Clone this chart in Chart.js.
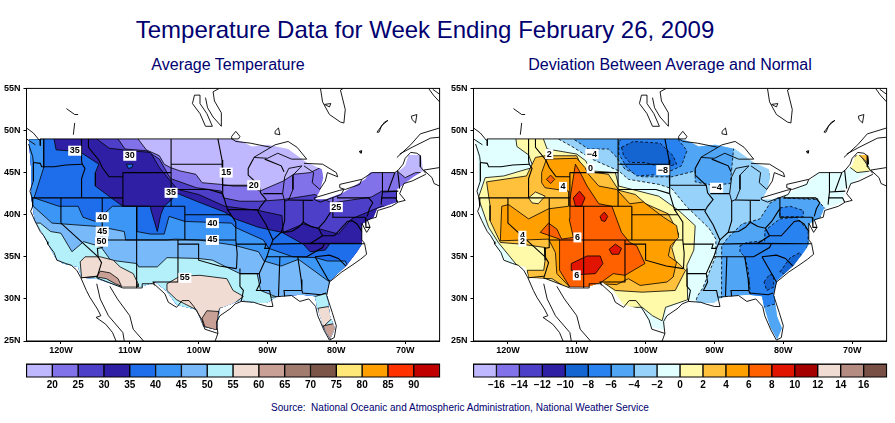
<!DOCTYPE html>
<html>
<head>
<meta charset="utf-8">
<title>Temperature Data for Week Ending February 26, 2009</title>
<script src="https://cdn.jsdelivr.net/npm/chart.js@4"></script>
<style>
  html, body { margin: 0; padding: 0; background: #fff; }
  body { position: relative; width: 895px; height: 423px; overflow: hidden; font-family: "Liberation Sans", Arial, sans-serif; }
  canvas { position: absolute; }
  .txt { position: absolute; color: #000070; text-align: center; white-space: pre; }
</style>
</head>
<body>
<div class="txt" style="left:0;width:850px;top:16px;font-size:24px">Temperature Data for Week Ending February 26, 2009</div>
<div class="txt" style="left:28px;width:400px;top:56px;font-size:16px">Average Temperature</div>
<div class="txt" style="left:470px;width:400px;top:56px;font-size:16px">Deviation Between Average and Normal</div>
<div class="txt" style="left:210px;width:500px;top:402px;font-size:10px">Source:  National Oceanic and Atmospheric Administration, National Weather Service</div>
<canvas id="avgMap" width="445" height="280" style="left:0;top:80px"></canvas>
<canvas id="devMap" width="445" height="280" style="left:447px;top:80px"></canvas>
<canvas id="avgBar" width="445" height="40" style="left:0;top:356px"></canvas>
<canvas id="devBar" width="445" height="40" style="left:447px;top:356px"></canvas>
<script>
// colour keys
const avgKeyColors = ['#C0B8FF','#8272EA','#4D3FC8','#2E1FA5','#1E6EEB','#3C96F5','#78B9FA','#B4F0FA','#F0DCD2','#C8A096','#A07B6E','#7A5548','#FFE878','#FFA000','#FF3200','#C00000'];
const avgKeyLabels = ['20','25','30','35','40','45','50','55','60','65','70','75','80','85','90'];
const devKeyColors = ['#C0B8FF','#8272EA','#4D3FC8','#2E1FA5','#1464D2','#2882F0','#50A5F5','#96D2FA','#E1FFFF','#FFFAAA','#FFC03C','#FFA000','#FF6000','#E11400','#A50000','#F0DCD2','#B48C82','#785046'];
const devKeyLabels = ['\u221216','\u221214','\u221212','\u221210','\u22128','\u22126','\u22124','\u22122','0','2','4','6','8','10','12','14','16'];

// axis ticks
const lonTicks = [-120,-110,-100,-90,-80,-70];
const latTicks = [25,30,35,40,45,50,55];

// area of the lower 48 that the contours are shaded in (lon, lat)
const usShade = [[-124.6,49],[-95,49],[-93.7,48.7],[-92.3,48.1],[-89.9,48.3],[-87,47.8],[-84.3,46.2],[-82.1,45.4],[-81.9,44.4],[-82.4,42.8],[-83.1,41.8],[-81.6,41.8],[-79,42.6],[-75.8,44.2],[-75.1,45],[-71.2,45],[-70,45.8],[-69.5,47.1],[-67.7,47.1],[-67.4,45.2],[-68.8,44.5],[-71.2,43],[-71.2,41.5],[-74.1,40.7],[-74.6,39.7],[-76.3,38.9],[-76.3,36.5],[-77,35.6],[-78.5,34],[-80.9,32.2],[-81.4,30.7],[-80.9,27.9],[-80.2,26.5],[-80.9,25.2],[-81.9,26.7],[-82.8,29.1],[-83.1,30.3],[-85,30.5],[-88.6,30.3],[-90.1,29.5],[-92,29.5],[-93.7,29.9],[-96.9,28.9],[-97.4,26.3],[-99.3,26.7],[-100.3,28.7],[-103.2,29.3],[-104.6,30.9],[-106.3,32],[-108.5,31.4],[-111.2,31.4],[-114.8,32.4],[-117,32.5],[-117.5,33.8],[-119.7,34.2],[-120.9,35],[-122.6,37.7],[-123.8,39.3],[-124.3,42],[-124.3,45.2],[-124.6,48.3]];
const wholeMap = [[-126,24],[-64,24],[-64,50],[-126,50]];

// average temperature contours
const avgAbove20 = [[-126,50],[-108.8,50],[-108.8,49],[-107.6,47.7],[-105.7,47],[-105,46],[-104.1,45.6],[-102.7,45.2],[-100.4,44.8],[-99.5,43.8],[-96.8,43.6],[-95,43.4],[-92.5,43.4],[-91.1,42.8],[-87.7,44],[-86.2,44.8],[-83.8,45],[-82.3,45.6],[-80,46],[-72,46],[-71.2,45.2],[-70,44.4],[-68.5,45],[-67.2,45],[-66,44.5],[-66,24],[-126,24]];
const avgAbove25 = [[-126,50],[-111.7,50],[-111.7,49],[-110.7,47.8],[-107.6,47.6],[-105.7,46.6],[-105,45.6],[-104.1,44.3],[-100.3,43.2],[-96.7,42.8],[-96.4,42],[-94,41.6],[-91.1,41.6],[-87.7,41.8],[-83.1,42.4],[-80.7,41.4],[-74.9,42.1],[-73.4,42.8],[-71.2,42.8],[-71.2,41.5],[-66,40],[-66,24],[-126,24]];
const avgAbove30 = [[-126,50],[-114.8,50],[-114.8,49],[-113,47.9],[-110,47.6],[-107,47.4],[-105.7,45.6],[-104.1,44],[-103,43],[-100,42.4],[-96.2,41],[-91.3,40.5],[-87.9,39.9],[-87.7,37.9],[-84.8,38.9],[-82.4,38.3],[-79.7,37.7],[-77.8,39.5],[-74.9,40.5],[-73.4,41],[-66,41],[-66,24],[-126,24]];
const avgAbove35 = [[-126,50],[-121,50],[-121,49],[-120.7,47.7],[-117.3,47.5],[-114.5,46],[-115,45],[-115,43.4],[-112.7,42],[-111,41],[-109,41],[-107,41],[-106.9,40.5],[-106,38],[-105.5,40],[-105,41],[-103,42.5],[-100,41.5],[-96.2,40.3],[-94.7,39.5],[-91.3,38.5],[-87.9,37.9],[-84.8,36.5],[-83.8,35.6],[-81.6,35.8],[-80.9,36.6],[-76.3,36.6],[-66,36.6],[-66,24],[-126,24]];
const avgMontanaPool = [[-110.5,46],[-109.5,46],[-109.7,45.6],[-110.2,45.5]];
const avgAbove40 = [[-126,49],[-122.5,49],[-122.5,45.6],[-123.9,42],[-120.3,41],[-117.5,41],[-116.8,39.7],[-115,39.2],[-112.5,41],[-111,41],[-109,41],[-109,38],[-107,37.7],[-105,37.7],[-104.3,39.8],[-102,39.2],[-95.2,39],[-94.7,38.5],[-90.6,37],[-89.8,36],[-86.3,35],[-83,34.9],[-81.3,34.5],[-78.7,34.5],[-78.3,33.8],[-66,33],[-66,24],[-126,24]];
const avgAbove45 = [[-126,41],[-124,41],[-121.3,39],[-118,38.8],[-114.5,38.6],[-110.8,38],[-110.6,37],[-109,37],[-107,37],[-104.5,37],[-103.5,37.1],[-100,37],[-95,36.4],[-91.3,35.6],[-90.5,34.5],[-88,33.9],[-85.5,34.7],[-81.3,32.2],[-66,32],[-66,24],[-126,24]];
const avgAbove50 = [[-126,39],[-123,39],[-121.5,38],[-120,37.8],[-118.4,35.6],[-116.7,36.8],[-114.2,36.2],[-112.8,34.6],[-109,34.2],[-108.7,33.8],[-106,33.8],[-104.6,34.9],[-100,34.8],[-98,34.6],[-94,33],[-91.5,33],[-91,31],[-88.6,30.2],[-85,30.2],[-83,30.3],[-81.8,30.6],[-81,30.6],[-66,30.6],[-66,24],[-126,24]];
const avgAbove55West = [[-117.2,34.4],[-116.5,35],[-114.3,35],[-112.4,34.6],[-111.4,33.8],[-109.5,33],[-108.8,31.8],[-108.8,31.4],[-111.2,31.4],[-112.4,32.2],[-113.9,33],[-115.1,32.6],[-117,32.5]];
const avgAbove55Texas = [[-104.6,31.8],[-102.7,32.7],[-99.8,32.8],[-95.9,32.4],[-95,31],[-93.5,30.3],[-95.4,29.1],[-96.9,28.9],[-97.4,27.9],[-97.4,26.3],[-99.3,26.7],[-100.3,28.7],[-103.2,29.9],[-104.6,31]];
const avgAbove55Florida = [[-82.6,28.9],[-81.1,29.1],[-80.6,27.7],[-81.9,26.7],[-82.8,27.7]];
const avgAbove60West = [[-114.8,32.6],[-114.3,33.3],[-112.9,33.1],[-111.7,32.4],[-111.2,31.5],[-112.1,31.8],[-113.4,32.4]];
const avgAbove60Texas = [[-99.5,27.7],[-98.8,28.6],[-97.1,28.5],[-97.4,26.3],[-99.1,26.7]];
const avgAbove60Florida = [[-81.9,26.8],[-80.2,27.1],[-80,26.1],[-80.9,25.2],[-81.6,26.1]];

// deviation contours, cold side
const devBelowM2 = [[-112.7,50],[-80,50],[-82,45],[-81.8,44.4],[-80.9,42],[-75,41.9],[-74.6,39.7],[-72,39],[-66,39],[-66,24],[-92.7,24],[-92.7,29.7],[-92.5,30.3],[-91.7,31.3],[-89.8,35.1],[-89.8,37.1],[-90.8,38.4],[-92.2,39.5],[-94.2,41.1],[-96.2,43.1],[-98.1,43.6],[-102.5,44.2],[-103.9,45.2],[-107.8,46.6],[-110.7,48.1],[-112.7,49]];
const devBelowM4North = [[-110.7,50],[-110.5,49],[-108.3,47.8],[-105.4,47.8],[-104.4,47],[-103,45.4],[-100.5,44.5],[-96.2,44.5],[-92.8,45.2],[-92.8,43.9],[-90.3,43.5],[-87.7,43.7],[-87.2,48],[-87.2,50]];
const devBelowM4East = [[-89,24],[-88.95,36.3],[-88,37.3],[-86,38.9],[-83.4,39.5],[-81.9,41.4],[-80.5,42],[-75.1,41.8],[-73.9,40.7],[-74.9,39.3],[-67.4,38],[-67,24]];
const devBelowM6North = [[-103.9,48.7],[-102.3,49.7],[-96,49.7],[-94,47.6],[-94.8,45.8],[-97.4,44.8],[-101.3,44.6],[-102.7,45.6],[-103.9,47.2]];
const devBelowM6East = [[-86.3,36.3],[-85.3,36.7],[-82.7,36.9],[-82.7,38.1],[-80.5,39.5],[-78.1,39.7],[-76.4,38.1],[-76.4,36.5],[-77.1,35],[-80.2,32.6],[-81.2,31.4],[-81.2,29.4],[-82.9,29],[-84.8,30.6],[-85.1,33.4],[-85.6,35],[-86.3,35.6]];
const devBelowM6Ohio = [[-80.5,40.8],[-79,41],[-77.1,40.5],[-77.1,39.75],[-80.5,39.75]];
const devBelowM8North = [[-103.5,48],[-101.8,48.7],[-97.9,48.5],[-96,47],[-95.5,46],[-97.4,45.6],[-100.1,46.2],[-102.3,46.2],[-103.2,47]];
const devBelowM8Coast = [[-80.5,33.2],[-79,34.9],[-77.6,35.5],[-77.2,34.9],[-79.5,32.8]];
const devBelowM8Georgia = [[-82.8,32],[-82,32.9],[-81.4,32.8],[-81.4,31.4],[-82.4,31]];

// deviation contours, warm side
const devAbove0 = [[-119,50],[-115.3,50],[-114.3,47.8],[-110,47.2],[-108.7,46.4],[-108,45.2],[-104.4,45],[-103.9,43.4],[-101,42.8],[-98.1,42.2],[-95.2,40.5],[-92.8,38.7],[-93,35.8],[-94,34],[-93.9,29.9],[-97.1,29],[-97.6,27.4],[-99,28],[-100.5,29],[-103,29],[-118,28.7],[-118.7,34],[-121.4,36.7],[-122.8,38.5],[-124.3,42],[-123.3,44.4],[-120.6,44.6],[-117.3,45.4],[-116.3,45.6],[-117,47.1],[-118.7,48.1]];
const devAbove2 = [[-123.1,43.9],[-122.6,41.1],[-122.6,39.3],[-121.1,36.7],[-118,36.5],[-114.6,36.1],[-114.6,34.6],[-114.8,33.4],[-117.2,33.4],[-117,32.5],[-113.6,32.4],[-111.7,31.4],[-108.3,31.4],[-105.9,31.8],[-104.4,31],[-100.5,30.8],[-95.7,31],[-94.2,33.4],[-95.7,34.6],[-96.2,36.1],[-95.2,37.7],[-96.7,40.1],[-100,41.3],[-101.5,42.4],[-103.9,42.9],[-105.4,44.8],[-109,45.2],[-110,47],[-114.6,47],[-116,46.8],[-117.3,44.6]];
const devNevadaHole = [[-117,42],[-116,42.7],[-114.6,42.2],[-115.6,41.3],[-116.5,41.4]];
const devAbove4 = [[-115.1,43.8],[-115.1,45],[-114.4,46.6],[-110,46.7],[-108.8,45.6],[-108.3,44.8],[-106.8,43.4],[-104.2,43],[-102.3,41.3],[-100.3,41.5],[-97.4,39.7],[-95.5,38.7],[-95.2,37.3],[-96.4,36.3],[-96.7,35.1],[-95.5,34.4],[-96,32.6],[-96.9,32],[-100.8,31.6],[-102.5,32.4],[-104.2,31.7],[-106.6,31.8],[-108.1,31.4],[-111,31.4],[-112.9,33],[-113.1,35.5],[-114.1,37.1],[-121.1,36.9],[-120.9,41],[-119.9,41.2],[-117,39.5],[-114.1,40.7],[-111.2,41],[-111.2,42.8],[-114.6,43.2]];
const devAbove6 = [[-111,41.8],[-110.2,46],[-109.5,45],[-108.5,43.4],[-106.8,41.3],[-104.9,41],[-103.5,37.9],[-102.3,36.7],[-101.3,36.3],[-100.1,34.2],[-103,32.8],[-104.7,33],[-106.4,32],[-108.1,31.4],[-111,31.4],[-112.5,33.4],[-112.5,37.1],[-115.3,37.9],[-114.1,39],[-112.9,38.3],[-112.2,37.1],[-110.5,37.3],[-111.1,39.5]];
const devAbove6Idaho = [[-114.4,44.2],[-113.8,44.7],[-113.2,44.2],[-113.8,43.7]];
const devAbove8Wyoming = [[-110.5,42],[-109.6,42.8],[-108.8,42],[-109.3,41],[-110.2,41]];
const devAbove8Colorado = [[-106.6,39.8],[-106,40.3],[-105.5,39.8],[-105.9,39.2],[-106.4,39.3]];
const devAbove8Plains = [[-105.3,35.9],[-104.4,36.5],[-103.5,36],[-103.9,35.3],[-104.9,35.3]];
const devAbove8Arizona = [[-110.8,34.2],[-108.5,35.1],[-106.6,35.1],[-106.2,34.2],[-107.3,33],[-109.5,32.9],[-110.7,33.4]];
const devAbove0Maine = [[-70.6,45.8],[-69.1,47.4],[-67.2,45.2],[-69.3,45]];
const devAbove2Maine = [[-69.1,47.2],[-67.6,47.2],[-67.6,46]];

// contour labels
const avgLabelText = ['35','30','15','20','35','25','40','45','50','40','45','55'];
const avgLabelLon = [-118,-110,-96,-92,-104,-80,-114,-114,-114.1,-98,-98,-102];
const avgLabelLat = [47.6,47,45,43.5,42.6,40.9,39.7,38,36.8,39,37,32.5];
const devLabelText = ['2','\u22124','0','\u22128','4','\u22124','4','2','6','6'];
const devLabelLon = [-114,-107.8,-108,-97.5,-112,-89.7,-117.9,-117.9,-109.9,-110];
const devLabelLat = [47.2,47.2,45.5,45.3,43.3,43.2,37.5,36.8,37.3,32.8];

// state lines
const stateLines = [
  [[-124,46.2],[-123,46.1],[-122.8,45.7],[-121,45.7],[-119.3,45.9],[-116.9,46]],
  [[-117,49],[-117,46.4],[-116.9,46],[-116.5,45.5],[-117,44.3],[-117,42]],
  [[-124.2,42],[-111,42]],
  [[-120,42],[-120,39],[-114.6,35]],
  [[-114,42],[-114,37]],
  [[-114,37],[-94.6,37]],
  [[-114,37],[-114,36.1],[-114.7,36],[-114.6,35],[-114.1,34.3],[-114.7,32.7]],
  [[-109,41],[-109,31.3]],
  [[-111,45],[-111,41],[-102,41]],
  [[-111,45],[-104,45]],
  [[-104,49],[-104,41]],
  [[-116,49],[-116,48],[-114.5,46.5],[-114,45.6],[-113,44.5],[-111,44.5]],
  [[-104,46],[-96.6,46]],
  [[-104,43],[-98.5,43],[-96.5,42.5]],
  [[-102,40],[-95.3,40]],
  [[-102,41],[-102,37]],
  [[-103,37],[-103,32],[-106.6,32],[-106.5,31.8]],
  [[-103,36.5],[-100,36.5],[-100,34.6],[-97,33.9],[-94.5,33.6]],
  [[-94.6,37],[-94.4,35.4],[-94.5,33.6]],
  [[-94,33.6],[-94,31.5],[-93.5,31],[-93.8,29.7]],
  [[-94,33],[-91.2,33]],
  [[-97.2,49],[-96.6,46.5],[-96.5,45.3],[-96.5,42.5],[-95.8,40.6],[-95.3,40],[-94.6,39.1],[-94.6,37]],
  [[-96.5,43.5],[-91.2,43.5]],
  [[-95.8,40.6],[-91.4,40.6]],
  [[-92,46.7],[-92.8,45.5],[-92.8,44.7],[-91.2,43.5],[-91,42.6],[-90.2,41.8],[-91,41],[-91.4,40.4],[-90.2,38.8],[-89.2,37],[-89.7,36],[-90.1,35],[-91.2,33],[-91,32],[-91.6,31],[-89.7,31],[-89.5,30.2]],
  [[-94.6,36.5],[-90.2,36.5],[-90.4,36],[-89.7,36]],
  [[-90.6,42.5],[-87.8,42.5]],
  [[-90.4,46.6],[-88,45.8],[-87.6,45.1]],
  [[-87.5,41.7],[-87.5,39.3],[-88,37.9]],
  [[-89.2,37],[-88,37.9],[-86.5,38],[-85.5,38.5],[-84.8,39.1],[-83.7,38.6],[-82.6,38.4],[-81.7,39.2],[-80.6,40.6]],
  [[-84.8,39.1],[-84.8,41.7]],
  [[-87,41.75],[-83.4,41.7]],
  [[-89.5,36.5],[-83.7,36.6],[-75.9,36.55]],
  [[-83.7,36.6],[-82,37.5],[-82.6,38.4]],
  [[-90.1,35],[-84.3,35],[-82,36.1],[-81.7,36.6]],
  [[-83.1,35],[-81,35.2],[-79.7,34.8],[-78.6,33.9]],
  [[-85.6,35],[-85.1,32.3],[-85,31],[-84.9,30.7],[-82.2,30.5],[-81.5,30.7]],
  [[-85,31],[-87.6,31],[-87.5,30.3]],
  [[-83.1,35],[-81,32]],
  [[-88.2,35],[-88.4,30.3]],
  [[-80.5,42],[-80.5,39.7],[-75.8,39.7]],
  [[-79.8,42.2],[-79.8,42],[-75.3,42],[-74.7,41.4],[-75.2,40.7],[-75.5,39.8]],
  [[-82,37.5],[-80.3,37.5],[-78.4,39.2],[-77.7,39.3],[-77,38.9],[-76.3,38]],
  [[-75.8,39.7],[-75.7,38.5],[-75.1,38.5]],
  [[-73.3,45],[-73.3,42.7],[-73.5,41.2]],
  [[-73.5,42],[-71.4,42],[-71.1,41.5]],
  [[-71.5,45],[-72.4,43],[-72.5,42.7]],
  [[-73.3,42.7],[-71,42.8]],
  [[-71.1,45.3],[-70.8,43.1]]
];

// coasts, borders and lakes
const coastLines = [
  [[-124.7,48.4],[-124.1,46.9],[-124,46.2],[-124,44],[-124.5,42.8],[-124.2,42],[-124.1,41],[-124.4,40.4],[-123.8,39.3],[-123,38],[-122.5,37.5],[-122,36.8],[-121.9,36.5],[-121,35.5],[-120.6,34.6],[-119.3,34.2],[-118.5,34],[-117.7,33.4],[-117.1,32.5],[-116.3,31],[-115.8,30.2],[-114.7,28.8],[-114.2,28],[-114.9,27.8],[-113.5,27],[-112.5,26],[-112,25]],
  [[-114.8,31.8],[-114.3,30],[-113.1,28],[-111,26],[-110.8,25]],
  [[-112.9,31.5],[-111.8,30],[-110,28],[-109.5,26.4],[-108,25]],
  [[-117.1,32.5],[-114.7,32.7],[-114.8,32.5],[-111,31.3],[-108.2,31.3],[-108.2,31.8],[-106.5,31.8],[-104.9,30.6],[-104.4,29.6],[-103.2,29],[-102.4,29.8],[-101.4,29.8],[-100.7,29.1],[-99.5,27.5],[-99.1,26.4],[-97.2,25.9]],
  [[-97.6,25],[-97.2,25.9],[-97.4,27.3],[-96.9,28],[-95.3,28.9],[-94.7,29.4],[-93.8,29.7],[-92,29.6],[-91.3,29.4],[-90,29.1],[-89.2,29.1],[-89.5,30.2],[-88,30.3],[-86.5,30.4],[-85.3,29.7],[-84,30],[-83,29.1],[-82.7,28],[-81.8,26.3],[-81,25.1],[-80.3,25.4],[-80,26.8],[-80.6,28.4],[-81.4,30.4],[-81,32],[-79.2,33.2],[-77.9,33.9],[-76.5,34.7],[-75.6,35.3],[-75.9,36.6],[-76.3,37],[-76.3,39],[-75.6,37.9],[-75.1,38.5],[-75.5,39.4],[-74.2,39.7],[-74,40.5],[-72,41],[-71,41.5],[-70,41.7],[-70.8,42.5],[-70.2,43.7],[-69,44],[-67,44.8]],
  [[-123,49],[-95.15,49],[-94.6,48.7],[-92.5,48.5],[-89.5,48]],
  [[-92,46.8],[-88.9,48.3],[-87,48.7],[-85.7,48],[-84.3,46.6],[-86.5,46.6],[-88.5,47.3],[-90,46.7],[-92,46.8]],
  [[-87.5,41.6],[-87.8,42.5],[-87.5,44.5],[-86.9,45.5],[-85,45.8],[-86.3,44.7],[-86.3,43],[-86.9,41.8],[-87.5,41.6]],
  [[-84.7,46.1],[-82,46],[-80,45],[-79.8,44.5],[-81.3,45],[-81.6,44],[-82.4,43],[-83.5,43.8],[-83.3,45],[-84.7,45.8]],
  [[-83.2,42],[-79.5,42.9],[-78.9,43],[-79.3,42.4],[-82.3,41.5],[-83.2,41.8],[-83.2,42]],
  [[-79.5,43.6],[-76.3,44.2],[-76.6,43.6],[-78.7,43],[-79.5,43.2],[-79.5,43.6]],
  [[-76.3,44.2],[-74.8,45],[-71.5,45],[-71,45.3],[-70.3,46],[-70,46.7],[-69.2,47.4],[-68.3,47.3],[-67.8,47],[-67.8,45.7],[-67,44.9]],
  [[-82.3,55],[-82,53.4],[-81,51.9],[-79.4,51],[-78.9,50.9],[-78.7,52.5],[-79.4,54.8],[-79,55]],
  [[-81.7,53.1],[-80.8,53.2],[-81,52.8],[-81.7,53.1]],
  [[-99,53.9],[-98.7,52.7],[-97.9,51.6],[-96.7,50.5],[-96.7,52.1],[-97.7,53.5],[-97.9,54.6],[-97,55]],
  [[-100.6,54.2],[-100.9,53.2],[-99.8,52],[-99,50.5],[-98,50.5],[-98.8,52],[-99.8,53.2],[-99.8,54.2],[-100.6,54.2]],
  [[-95.2,49.3],[-94.6,49.9],[-94,49.3],[-94.2,49],[-95.2,49],[-95.2,49.3]],
  [[-88.9,49.9],[-88.4,50.3],[-88.2,49.5],[-88.9,49.6],[-88.9,49.9]],
  [[-74.1,49.8],[-73,51],[-72.5,51.2],[-73.4,50.6],[-73.8,49.8],[-74.1,49.8]],
  [[-69.1,51.7],[-68.3,51.9],[-68.5,50.9],[-69,51.3],[-69.1,51.7]],
  [[-76.7,47.5],[-76.3,47.6],[-76.4,47.3],[-76.7,47.5]],
  [[-71.2,46.8],[-69.2,48.3],[-67.8,49.6],[-65,50.3]],
  [[-70.8,47.2],[-69,48],[-66.3,49.1],[-65,49.2]],
  [[-66.6,55],[-65.9,54.2],[-65,53.4]],
  [[-66,54.9],[-65,54.3]],
  [[-65,45.6],[-67.3,45.3],[-66.1,44.4],[-65.8,43.7],[-65,43.4]],
  [[-119.2,52.6],[-118,51.9],[-117.5,51.9]],
  [[-118,50.9],[-118.2,49.5]],
  [[-125,50.3],[-124,49.7],[-123.1,48.8]],
  [[-125,49],[-123.7,48.3]],
  [[-123,49],[-123,48.2]]
];

function toPoints(shape, close) {
  const points = shape.map(p => ({ x: p[0], y: p[1] }));
  if (close) points.push(points[0]);
  return points;
}

// a filled contour region, stroked unless it is the base colour
function contour(shape, color, dashed) {
  return {
    data: toPoints(shape, true),
    showLine: true,
    fill: 'shape',
    backgroundColor: color,
    borderColor: '#000',
    borderWidth: color === baseLayerColor ? 0 : 0.8,
    borderDash: dashed ? [3, 2] : [],
    pointRadius: 0,
    tension: 0
  };
}

function outline(shape, width) {
  return { data: toPoints(shape, false), showLine: true, fill: false, borderColor: '#000', borderWidth: width, pointRadius: 0, tension: 0 };
}

let baseLayerColor = null;

// frame around the plot area
const framePlugin = {
  id: 'frame',
  afterDraw(chart) {
    const a = chart.chartArea, ctx = chart.ctx;
    ctx.save();
    ctx.strokeStyle = '#000';
    ctx.lineWidth = 1;
    ctx.strokeRect(a.left, a.top, a.right - a.left, a.bottom - a.top);
    ctx.restore();
  }
};

function drawMap(canvasId, layers, labelText, labelLon, labelLat) {
  const datasets = layers.concat(
    coastLines.map(l => outline(l, 0.9)),
    stateLines.map(l => outline(l, 1.1))
  );
  datasets.forEach((d, i) => { d.order = datasets.length - i; });

  // contours only show inside the shaded area
  const shadePlugin = {
    id: 'shade',
    beforeDatasetsDraw(chart) {
      const ctx = chart.ctx, xs = chart.scales.x, ys = chart.scales.y;
      ctx.save();
      ctx.beginPath();
      usShade.forEach((p, i) => {
        const px = xs.getPixelForValue(p[0]), py = ys.getPixelForValue(p[1]);
        if (i === 0) ctx.moveTo(px, py); else ctx.lineTo(px, py);
      });
      ctx.closePath();
      ctx.clip();
    },
    afterDatasetDraw(chart, args) {
      if (args.index === layers.length - 1) chart.ctx.restore();
    },
    afterDatasetsDraw(chart) {
      const ctx = chart.ctx;
      ctx.save();
      ctx.font = 'bold 9px "Liberation Sans"';
      ctx.textAlign = 'center';
      ctx.textBaseline = 'middle';
      labelText.forEach((t, i) => {
        const px = chart.scales.x.getPixelForValue(labelLon[i]);
        const py = chart.scales.y.getPixelForValue(labelLat[i]);
        const w = ctx.measureText(t).width + 3;
        ctx.fillStyle = '#fff';
        ctx.fillRect(px - w / 2, py - 5, w, 10);
        ctx.fillStyle = '#000';
        ctx.fillText(t, px, py);
      });
      ctx.restore();
    }
  };

  return new Chart(document.getElementById(canvasId), {
    type: 'scatter',
    data: { datasets: datasets },
    plugins: [shadePlugin, framePlugin],
    options: {
      responsive: false,
      animation: false,
      devicePixelRatio: 1,
      layout: { padding: { top: 7, right: 5.4, left: 0, bottom: 0 } },
      plugins: { legend: { display: false }, tooltip: { enabled: false } },
      scales: {
        x: {
          type: 'linear', min: -125, max: -65,
          afterFit: s => { s.height = 19; },
          afterBuildTicks: s => { s.ticks = lonTicks.map(v => ({ value: v })); },
          grid: { drawOnChartArea: false, tickLength: 3, tickColor: '#000' },
          border: { color: '#000' },
          ticks: { color: '#000', font: { family: 'Liberation Sans', size: 9, weight: 'bold' }, padding: 1, maxRotation: 0, autoSkip: false,
                   callback: v => Math.abs(v) + 'W' }
        },
        y: {
          type: 'linear', min: 25, max: 55,
          afterFit: s => { s.width = 26.5; },
          afterBuildTicks: s => { s.ticks = latTicks.map(v => ({ value: v })); },
          grid: { drawOnChartArea: false, tickLength: 3, tickColor: '#000' },
          border: { color: '#000' },
          ticks: { color: '#000', font: { family: 'Liberation Sans', size: 9, weight: 'bold' }, padding: 3, autoSkip: false,
                   callback: v => v + 'N' }
        }
      }
    }
  });
}

function drawKey(canvasId, colors, labels) {
  return new Chart(document.getElementById(canvasId), {
    type: 'bar',
    data: { datasets: [{
      data: colors.map((c, i) => ({ x: i + 0.5, y: 1 })),
      backgroundColor: colors,
      borderColor: '#000',
      borderWidth: 1,
      barPercentage: 1,
      categoryPercentage: 1
    }] },
    plugins: [framePlugin],
    options: {
      responsive: false,
      animation: false,
      devicePixelRatio: 1,
      layout: { padding: { top: 8, left: 26.5, right: 5.4, bottom: 0 } },
      plugins: { legend: { display: false }, tooltip: { enabled: false } },
      scales: {
        x: {
          type: 'linear', min: 0, max: colors.length, offset: false,
          afterFit: s => { s.height = 19; },
          grid: { display: false, drawTicks: false },
          border: { display: false },
          ticks: { stepSize: 1, autoSkip: false, maxRotation: 0, padding: 2, color: '#000',
                   font: { family: 'Liberation Sans', size: 10, weight: 'bold' },
                   callback: v => labels[v - 1] || '' }
        },
        y: { type: 'linear', min: 0, max: 1, display: false }
      }
    }
  });
}

const avgColor = i => avgKeyColors[i];
baseLayerColor = avgColor(0);
drawMap('avgMap', [
  contour(wholeMap, avgColor(0)),
  contour(avgAbove20, avgColor(1)),
  contour(avgAbove25, avgColor(2)),
  contour(avgAbove30, avgColor(3)),
  contour(avgAbove35, avgColor(4)),
  contour(avgMontanaPool, avgColor(4)),
  contour(avgAbove40, avgColor(5)),
  contour(avgAbove45, avgColor(6)),
  contour(avgAbove50, avgColor(7)),
  contour(avgAbove55West, avgColor(8)),
  contour(avgAbove55Texas, avgColor(8)),
  contour(avgAbove55Florida, avgColor(8)),
  contour(avgAbove60West, avgColor(9)),
  contour(avgAbove60Texas, avgColor(9)),
  contour(avgAbove60Florida, avgColor(9))
], avgLabelText, avgLabelLon, avgLabelLat);

const devColor = i => devKeyColors[i];
baseLayerColor = devColor(8);
drawMap('devMap', [
  contour(wholeMap, devColor(8)),
  contour(devBelowM2, devColor(7), true),
  contour(devBelowM4North, devColor(6), true),
  contour(devBelowM4East, devColor(6), true),
  contour(devBelowM6North, devColor(5), true),
  contour(devBelowM6East, devColor(5), true),
  contour(devBelowM6Ohio, devColor(5), true),
  contour(devBelowM8North, devColor(4), true),
  contour(devBelowM8Coast, devColor(4), true),
  contour(devBelowM8Georgia, devColor(4), true),
  contour(devAbove0, devColor(9)),
  contour(devAbove0Maine, devColor(9)),
  contour(devAbove2Maine, devColor(10)),
  contour(devAbove2, devColor(10)),
  contour(devNevadaHole, devColor(9)),
  contour(devAbove4, devColor(11)),
  contour(devAbove6, devColor(12)),
  contour(devAbove6Idaho, devColor(12)),
  contour(devAbove8Wyoming, devColor(13)),
  contour(devAbove8Colorado, devColor(13)),
  contour(devAbove8Plains, devColor(13)),
  contour(devAbove8Arizona, devColor(13))
], devLabelText, devLabelLon, devLabelLat);

drawKey('avgBar', avgKeyColors, avgKeyLabels);
drawKey('devBar', devKeyColors, devKeyLabels);
</script>
</body>
</html>
